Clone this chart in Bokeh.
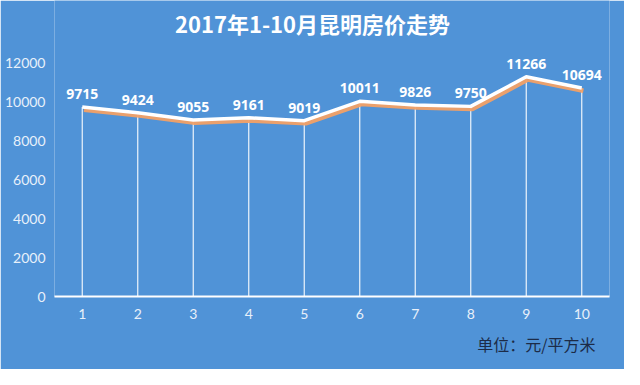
from bokeh.plotting import figure
from bokeh.models import (ColumnDataSource, FactorRange, Range1d, FixedTicker,
                          LabelSet, Label, Title)
from bokeh.core.properties import value
from bokeh.transform import dodge
from bokeh.embed import file_html
from bokeh.resources import INLINE

# ---- data ----
months = ["1", "2", "3", "4", "5", "6", "7", "8", "9", "10"]
prices = [9715, 9424, 9055, 9161, 9019, 10011, 9826, 9750, 11266, 10694]
y_ticks = [0, 2000, 4000, 6000, 8000, 10000, 12000]
title_text = "2017年1-10月昆明房价走势"
unit_text = "单位：元/平方米"

BG = "#5093d7"
LIGHT = "#e8f0fa"

src = ColumnDataSource(dict(
    month=months,
    price=prices,
    base=[0] * len(prices),
    label=[str(v) for v in prices],
))

FRAME_H = 296          # frame height in px (top of canvas to the x axis line)
Y_END = 12000 * FRAME_H / 234.0   # 12000 sits 234 px above the axis line

p = figure(width=624, height=369,
           x_range=FactorRange(factors=months),
           y_range=Range1d(0, Y_END),
           output_backend="svg", toolbar_location=None,
           min_border_left=54, min_border_right=15,
           min_border_top=0, min_border_bottom=73)

p.background_fill_color = BG
p.border_fill_color = BG
p.outline_line_color = None
p.grid.visible = False

# drop lines
p.segment(x0="month", y0="base", x1="month", y1="price", source=src,
          line_color="white", line_width=1.2, line_alpha=0.9)

# orange shadow line
p.line(x=dodge("month", 0.03, range=p.x_range), y=dodge("price", -140), source=src,
       line_color="#f2a066", line_width=4.5, line_alpha=0.95, line_join="round")
# white main line
p.line(x="month", y="price", source=src,
       line_color="white", line_width=3.5, line_join="round")

# data labels
labels = LabelSet(x="month", y="price", text="label", source=src,
                  y_offset=8, text_align="center", text_baseline="bottom",
                  text_color="white", text_font=value("Noto Sans"),
                  text_font_size="14px", text_font_style="bold")
p.add_layout(labels)

# axes
xa = p.xaxis[0]
xa.axis_line_color = "white"
xa.axis_line_width = 2
xa.major_tick_line_color = None
xa.minor_tick_line_color = None
xa.major_tick_out = 0
xa.major_tick_in = 0
xa.major_label_text_color = LIGHT
xa.major_label_text_font = "Lato"
xa.major_label_text_font_size = "14px"
xa.major_label_standoff = 12

ya = p.yaxis[0]
ya.ticker = FixedTicker(ticks=y_ticks)
ya.axis_line_color = None
ya.major_tick_line_color = None
ya.minor_tick_line_color = None
ya.major_tick_out = 0
ya.major_tick_in = 0
ya.major_label_text_color = LIGHT
ya.major_label_text_font = "Lato"
ya.major_label_text_font_size = "14px"
ya.major_label_standoff = 9

# title (inside the frame area, which spans to the top of the canvas)
p.add_layout(Label(x=258, y=FRAME_H - 22, x_units="screen", y_units="screen",
                   text=title_text, text_align="center", text_baseline="middle",
                   text_color="white", text_font="Noto Sans CJK SC",
                   text_font_size="22px", text_font_style="bold"))

# unit note below the axis
p.add_layout(Title(text=unit_text, align="right", offset=14, standoff=16,
                   text_color="#1c2b47", text_font="Noto Sans CJK SC",
                   text_font_size="16px", text_font_style="normal"), "below")

html = file_html(p, INLINE)
html = html.replace("<body>", '<body style="background:%s">' % BG, 1)
open("out.html", "w").write(html)
